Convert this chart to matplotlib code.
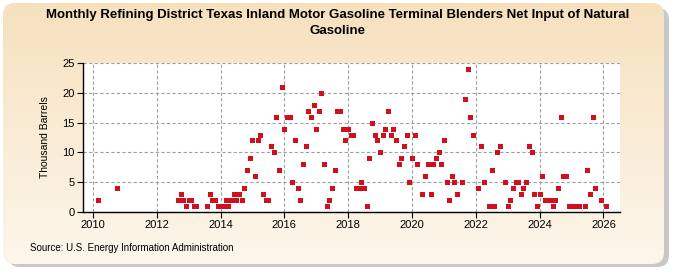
import matplotlib
matplotlib.use("Agg")
import matplotlib.pyplot as plt
import matplotlib.dates as mdates
from matplotlib.patches import FancyBboxPatch
import numpy as np
import pandas as pd

title = "Monthly Refining District Texas Inland Motor Gasoline Terminal Blenders Net Input of Natural\nGasoline"
ylabel = "Thousand Barrels"
source = "Source: U.S. Energy Information Administration"

months = [
    "2010-03", "2010-10",
    "2012-09", "2012-10", "2012-11", "2012-12",
    "2013-01", "2013-02", "2013-03", "2013-04", "2013-08", "2013-09", "2013-10", "2013-11", "2013-12",
    "2014-01", "2014-02", "2014-03", "2014-04", "2014-05", "2014-06", "2014-07", "2014-08", "2014-09",
    "2014-10", "2014-11", "2014-12",
    "2015-01", "2015-02", "2015-03", "2015-04", "2015-05", "2015-06", "2015-07", "2015-08", "2015-09",
    "2015-10", "2015-11", "2015-12",
    "2016-01", "2016-02", "2016-03", "2016-04", "2016-05", "2016-06", "2016-07", "2016-08", "2016-09",
    "2016-10", "2016-11", "2016-12",
    "2017-01", "2017-02", "2017-03", "2017-04", "2017-05", "2017-06", "2017-07", "2017-08", "2017-09",
    "2017-10", "2017-11", "2017-12",
    "2018-01", "2018-02", "2018-03", "2018-04", "2018-05", "2018-06", "2018-07", "2018-08", "2018-09",
    "2018-10", "2018-11", "2018-12",
    "2019-01", "2019-02", "2019-03", "2019-04", "2019-05", "2019-06", "2019-07", "2019-08", "2019-09",
    "2019-10", "2019-11", "2019-12",
    "2020-01", "2020-02", "2020-03", "2020-05", "2020-06", "2020-07", "2020-08", "2020-09",
    "2020-10", "2020-11", "2020-12",
    "2021-01", "2021-02", "2021-03", "2021-04", "2021-05", "2021-06", "2021-08", "2021-09",
    "2021-10", "2021-11", "2021-12",
    "2022-02", "2022-03", "2022-04", "2022-06", "2022-07", "2022-08", "2022-09", "2022-10", "2022-12",
    "2023-01", "2023-02", "2023-03", "2023-04", "2023-05", "2023-06", "2023-07", "2023-08", "2023-09",
    "2023-10", "2023-11", "2023-12",
    "2024-01", "2024-02", "2024-03", "2024-04", "2024-05", "2024-06", "2024-07", "2024-08", "2024-09",
    "2024-10", "2024-11", "2024-12",
    "2025-01", "2025-02", "2025-03", "2025-04", "2025-06", "2025-07", "2025-08", "2025-09", "2025-10",
    "2025-12", "2026-02",
]

values = [
    2, 4,
    2, 3, 2, 1,
    2, 2, 1, 1, 1, 3, 2, 2, 1,
    1, 1, 2, 1, 2, 3, 2, 3, 2,
    4, 7, 9,
    12, 6, 12, 13, 3, 2, 2, 11, 10,
    16, 7, 21,
    14, 16, 16, 5, 12, 4, 2, 8, 11,
    17, 16, 18,
    14, 17, 20, 8, 1, 2, 4, 7, 17,
    17, 14, 12,
    14, 13, 13, 4, 4, 5, 4, 1, 9,
    15, 13, 12,
    10, 13, 14, 17, 13, 14, 12, 8, 9,
    11, 13, 5,
    9, 13, 8, 3, 6, 8, 3, 8,
    9, 10, 8,
    12, 5, 2, 6, 5, 3, 5, 19,
    24, 16, 13,
    4, 11, 5, 1, 7, 1, 10, 11, 5,
    1, 2, 4, 5, 5, 3, 4, 5, 11,
    10, 3, 1,
    3, 6, 2, 2, 2, 1, 2, 4, 16,
    6, 6, 1,
    1, 1, 1, 1, 1, 7, 3, 16, 4,
    2, 1,
]

year_ticks = [2010, 2012, 2014, 2016, 2018, 2020, 2022, 2024, 2026]
y_ticks = [0, 5, 10, 15, 20, 25]

W, H = 675, 275
fig = plt.figure(figsize=(W / 100, H / 100), dpi=100)
fig.patch.set_facecolor("white")

# background rounded box with gradient
bg = fig.add_axes([0, 0, 1, 1])
bg.set_xlim(0, W)
bg.set_ylim(H, 0)
bg.axis("off")
shadow = FancyBboxPatch((8, 8), W - 14, H - 16, boxstyle="round,pad=0,rounding_size=12",
                        facecolor="#c8c8c8", edgecolor="none", zorder=0)
bg.add_patch(shadow)
box = FancyBboxPatch((3, 3), W - 14, H - 14, boxstyle="round,pad=0,rounding_size=12",
                     facecolor="none", edgecolor="none", zorder=1)
bg.add_patch(box)
grad = np.linspace(0, 1, 256).reshape(-1, 1)
c_top = np.array([0.965, 0.882, 0.745])
c_bot = np.array([0.992, 0.965, 0.925])
img = c_top[None, None, :] * (1 - grad[:, :, None]) + c_bot[None, None, :] * grad[:, :, None]
im = bg.imshow(img, extent=(3, W - 11, H - 11, 3), aspect="auto", zorder=1)
im.set_clip_path(box)

fam = ["Liberation Sans Narrow", "Liberation Sans", "DejaVu Sans"]

ax = fig.add_axes([83 / W, 1 - 212 / H, (620 - 83) / W, (212 - 63) / H])
ax.set_facecolor("white")
dates = pd.to_datetime(months, format="%Y-%m")
ax.plot(dates, values, linestyle="none", marker="s", markersize=3.6,
        color="#d0101c", markeredgewidth=0, zorder=3, clip_on=False)

ax.set_xlim(pd.Timestamp("2009-09-10"), pd.Timestamp("2026-07-10"))
ax.set_ylim(0, 25)
ax.set_xticks([pd.Timestamp(f"{y}-01-01") for y in year_ticks])
ax.xaxis.set_major_formatter(mdates.DateFormatter("%Y"))
ax.set_yticks(y_ticks)
ax.grid(True, color="#a0a0a0", linestyle=(0, (3, 2)), linewidth=0.8)
ax.set_axisbelow(True)
for s in ["top", "right"]:
    ax.spines[s].set_visible(False)
for s in ["left", "bottom"]:
    ax.spines[s].set_color("black")
    ax.spines[s].set_linewidth(1.0)
ax.tick_params(axis="both", labelsize=8, length=4, width=0.8, color="black", pad=2)
for lab in ax.get_xticklabels() + ax.get_yticklabels():
    lab.set_family(["Liberation Sans", "DejaVu Sans"])
ax.set_ylabel(ylabel, fontsize=7.5, family=["Liberation Sans", "DejaVu Sans"], labelpad=9)

fig.text(0.5, 1 - 23 / H, title, ha="center", va="center", fontsize=9.5,
         fontweight="bold", family=fam, linespacing=1.45)
fig.text(30 / W, 1 - 248 / H, source, ha="left", va="center", fontsize=7,
         family=["Liberation Sans", "DejaVu Sans"])

fig.savefig("out.png", dpi=100)
